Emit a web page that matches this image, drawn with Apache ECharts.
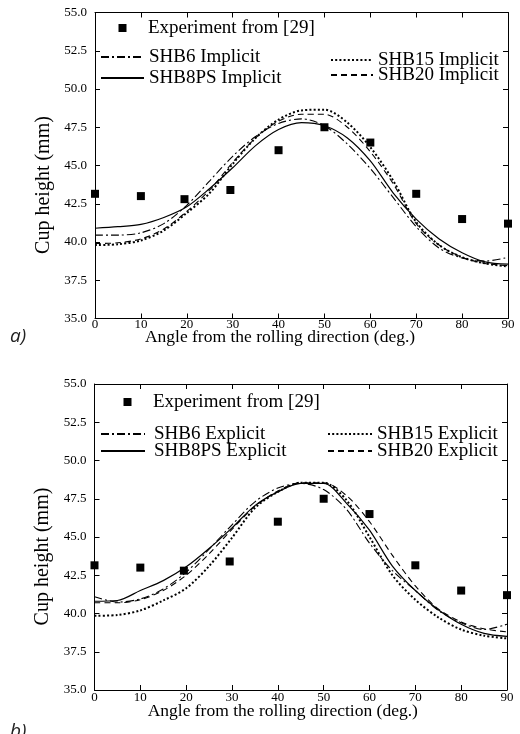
<!DOCTYPE html>
<html>
<head>
<meta charset="utf-8">
<script src="https://cdn.jsdelivr.net/npm/echarts@6/dist/echarts.min.js"></script>
<style>
html,body{margin:0;padding:0;background:#fff;}
#c{width:520px;height:734px;}
</style>
</head>
<body>
<div id="c"></div>
<script>
// ---------- data ----------
var expAngles = [0, 10, 19.5, 29.5, 40, 50, 60, 70, 80, 90];
var expValues = [43.15, 43.0, 42.8, 43.4, 46.0, 47.5, 46.5, 43.15, 41.5, 41.2];

var simAngles = [0, 5, 10, 15, 20, 25, 30, 35, 40, 45, 50, 55, 60, 65, 70, 75, 80, 85, 90];

// a) implicit
var shb6Imp   = [40.45, 40.45, 40.6, 41.2, 42.4, 44.0, 45.6, 46.9, 47.75, 48.05, 47.6, 46.4, 44.8, 42.9, 41.0, 39.6, 38.95, 38.75, 39.0];
var shb8psImp = [40.9, 41.0, 41.15, 41.6, 42.3, 43.5, 44.85, 46.3, 47.35, 47.8, 47.6, 46.8, 45.3, 43.2, 41.5, 40.2, 39.3, 38.7, 38.55];
var shb15Imp  = [39.8, 39.85, 40.1, 40.75, 41.9, 43.2, 45.1, 46.8, 48.0, 48.6, 48.65, 47.8, 46.2, 44.0, 41.3, 39.8, 39.0, 38.6, 38.4];
var shb20Imp  = [39.9, 39.95, 40.2, 40.85, 42.0, 43.4, 45.2, 46.8, 47.9, 48.35, 48.35, 47.5, 45.9, 43.8, 41.2, 39.8, 39.0, 38.6, 38.45];

// b) explicit
var shb6Exp   = [41.1, 40.75, 40.95, 41.6, 42.7, 44.2, 45.8, 47.3, 48.2, 48.5, 48.1, 46.8, 44.6, 42.8, 41.5, 40.2, 39.4, 38.95, 39.3];
var shb8psExp = [40.8, 40.85, 41.5, 42.15, 43.05, 44.25, 45.6, 47.05, 47.95, 48.5, 48.5, 47.2, 45.45, 43.1, 41.5, 40.25, 39.3, 38.7, 38.5];
var shb15Exp  = [39.85, 39.9, 40.2, 40.85, 41.65, 43.1, 44.95, 46.9, 47.95, 48.55, 48.55, 47.4, 45.0, 42.5, 40.9, 39.75, 38.95, 38.55, 38.37];
var shb20Exp  = [40.7, 40.7, 40.9, 41.5, 42.5, 43.9, 45.5, 47.0, 48.0, 48.55, 48.55, 47.7, 46.0, 43.8, 41.8, 40.3, 39.45, 39.0, 38.8];

var xTicks = {min: 0, max: 90, interval: 10};
var yTicks = {min: 35, max: 55, interval: 2.5};

var expName = 'Experiment from [29]';
var namesA = ['SHB6 Implicit', 'SHB8PS Implicit', 'SHB15 Implicit', 'SHB20 Implicit'];
var namesB = ['SHB6 Explicit', 'SHB8PS Explicit', 'SHB15 Explicit', 'SHB20 Explicit'];
var xName = 'Angle from the rolling direction (deg.)';
var yName = 'Cup height (mm)';

// ---------- helpers ----------
function pairs(xs, ys) { return xs.map(function (x, i) { return [x, ys[i]]; }); }
var SERIF = '"Liberation Serif", "Times New Roman", serif';

var styles = {
  dashdot: {color: '#000', width: 1.1, type: [8, 3, 2, 3]},
  solid:   {color: '#000', width: 1.2, type: 'solid'},
  dotted:  {color: '#000', width: 2,   type: [2, 2.2]},
  dashed:  {color: '#000', width: 1.1, type: [6, 4]}
};
var styleOrder = ['dashdot', 'solid', 'dotted', 'dashed'];

function xAxes(grid, gap, padR, lblMargin) {
  return [
    {type: 'value', gridIndex: grid, position: 'bottom', min: xTicks.min, max: xTicks.max, interval: xTicks.interval,
     axisLine: {onZero: false, lineStyle: {color: '#000', width: 1}},
     axisTick: {inside: true, length: 5, lineStyle: {color: '#000'}},
     axisLabel: {color: '#000', fontFamily: SERIF, fontSize: 13, margin: lblMargin},
     splitLine: {show: false},
     name: xName, nameLocation: 'middle', nameGap: gap, nameMoveOverlap: false,
     nameTextStyle: {color: '#000', fontFamily: SERIF, fontSize: 17.5, padding: [0, padR, 0, 0]}},
    {type: 'value', gridIndex: grid, position: 'top', min: xTicks.min, max: xTicks.max, interval: xTicks.interval,
     axisLine: {onZero: false, lineStyle: {color: '#000', width: 1}},
     axisTick: {inside: true, length: 5, lineStyle: {color: '#000'}},
     axisLabel: {show: false}, splitLine: {show: false}}
  ];
}
function yAxes(grid) {
  return [
    {type: 'value', gridIndex: grid, position: 'left', min: yTicks.min, max: yTicks.max, interval: yTicks.interval,
     axisLine: {show: true, onZero: false, lineStyle: {color: '#000', width: 1}},
     axisTick: {show: true, inside: true, length: 5, lineStyle: {color: '#000'}},
     axisLabel: {color: '#000', fontFamily: SERIF, fontSize: 13, margin: 8,
                 formatter: function (v) { return v.toFixed(1); }},
     splitLine: {show: false},
     name: yName, nameLocation: 'middle', nameGap: 41, nameRotate: 90,
     nameTextStyle: {color: '#000', fontFamily: SERIF, fontSize: 20, padding: [0, 39, 0, 0]}},
    {type: 'value', gridIndex: grid, position: 'right', min: yTicks.min, max: yTicks.max, interval: yTicks.interval,
     axisLine: {show: true, onZero: false, lineStyle: {color: '#000', width: 1}},
     axisTick: {show: true, inside: true, length: 5, lineStyle: {color: '#000'}},
     axisLabel: {show: false}, splitLine: {show: false}}
  ];
}

function seriesFor(grid, names, sets) {
  var out = [{
    name: expName, type: 'scatter', xAxisIndex: grid * 2, yAxisIndex: grid * 2,
    symbol: 'rect', symbolSize: 8, itemStyle: {color: '#000', opacity: 1}, z: 5,
    data: pairs(expAngles, expValues)
  }];
  names.forEach(function (n, i) {
    var st = styles[styleOrder[i]];
    out.push({
      name: n, type: 'line', xAxisIndex: grid * 2, yAxisIndex: grid * 2,
      showSymbol: false, symbol: 'none', smooth: 0.3,
      lineStyle: {color: st.color, width: st.width, type: st.type},
      itemStyle: {color: '#000'},
      data: pairs(simAngles, sets[i])
    });
  });
  return out;
}

var legendText = {color: '#000', fontFamily: SERIF, fontSize: 19, lineHeight: 19};
function lg(name, left, centerY, w, h, padL, isLine) {
  var o = {
    data: [name], left: left, top: centerY - 9.5, orient: 'horizontal', padding: 0,
    itemWidth: w, itemHeight: h, selectedMode: false,
    textStyle: Object.assign({}, legendText, {padding: [0, 0, 0, padL || 0]})
  };
  if (isLine) {
    o.itemStyle = {opacity: 0, color: 'rgba(0,0,0,0)', borderWidth: 0};
  } else {
    o.itemStyle = {opacity: 1, color: '#000'};
  }
  return o;
}

var option = {
  backgroundColor: '#fff',
  animation: false,
  grid: [
    {left: 95, right: 12, top: 12.5, height: 306},
    {left: 94.5, right: 13, top: 384, height: 306}
  ],
  xAxis: xAxes(0, 9.5, 43, 0).concat(xAxes(1, 12, 36, 1)),
  yAxis: yAxes(0).concat(yAxes(1)),
  legend: [
    lg(expName, 118.5, 28, 8, 8, 16.5, false),
    lg(namesA[0], 100, 57, 43, 10, 0, true),
    lg(namesA[1], 100, 78, 43, 10, 0, true),
    lg(namesA[2], 330, 60, 42, 10, 0, true),
    lg(namesA[3], 330, 75, 42, 10, 0, true),
    lg(expName, 123.5, 402, 8, 8, 16.5, false),
    lg(namesB[0], 100, 434, 44, 10, 4, true),
    lg(namesB[1], 100, 451, 44, 10, 4, true),
    lg(namesB[2], 327, 434, 44, 10, 0, true),
    lg(namesB[3], 327, 451, 44, 10, 0, true)
  ],
  graphic: [
    {type: 'text', left: 10, top: 327, style: {text: 'a)', font: 'italic 19px "Open Sans", "DejaVu Sans", sans-serif', fill: '#222'}},
    {type: 'text', left: 10, top: 722, style: {text: 'b)', font: 'italic 19px "Open Sans", "DejaVu Sans", sans-serif', fill: '#222'}}
  ],
  series: seriesFor(0, namesA, [shb6Imp, shb8psImp, shb15Imp, shb20Imp])
    .concat(seriesFor(1, namesB, [shb6Exp, shb8psExp, shb15Exp, shb20Exp]))
};

var chart = echarts.init(document.getElementById('c'), null, {renderer: 'canvas'});
chart.setOption(option);
</script>
</body>
</html>
